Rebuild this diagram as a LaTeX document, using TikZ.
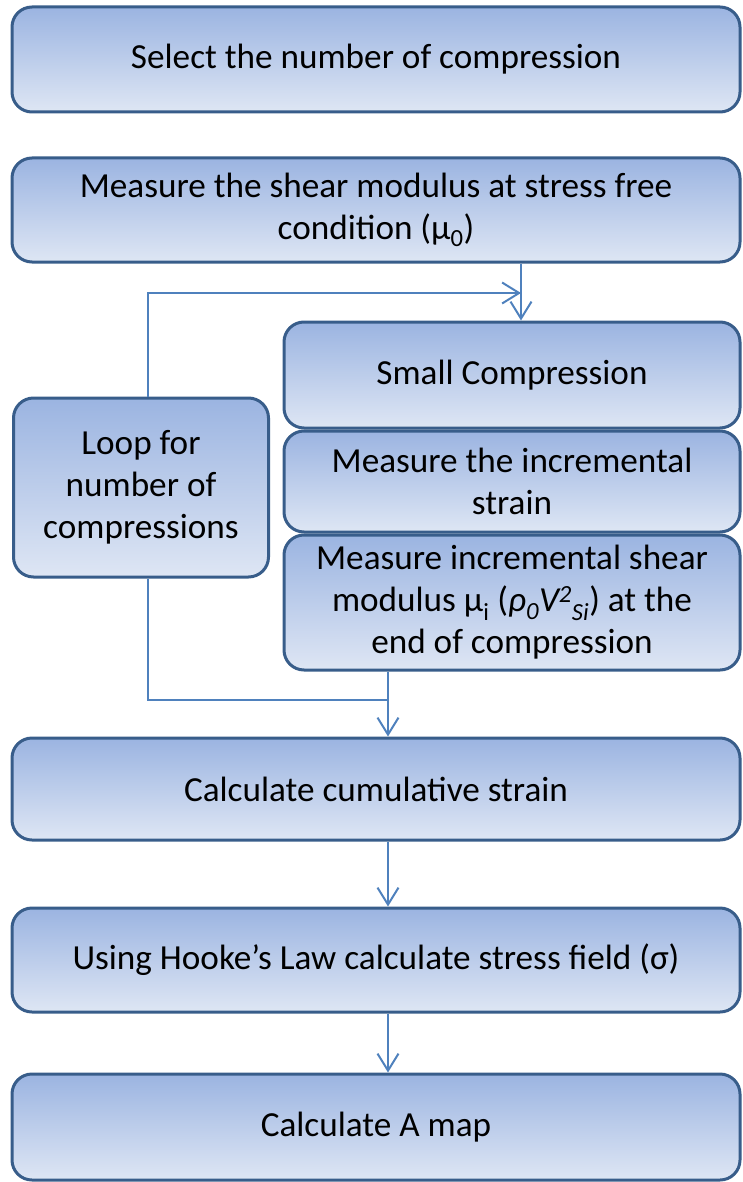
\documentclass[tikz,border=0pt]{standalone}
\usepackage{fontspec}
\setmainfont{Carlito}
\usetikzlibrary{arrows.meta}
\definecolor{bordc}{RGB}{56,93,138}
\definecolor{topc}{RGB}{155,180,225}
\definecolor{botc}{RGB}{222,230,244}
\definecolor{linec}{RGB}{79,129,189}
\tikzset{
  box/.style={draw=bordc, line width=3pt, rounded corners=20pt, top color=topc, bottom color=botc,
    align=center, inner sep=0pt, font=\fontsize{35.2}{42}\selectfont},
  conn/.style={draw=linec, line width=2pt},
  arr/.style={conn, -{Straight Barb[length=17pt,width=21pt,line width=2pt]}}
}
\begin{document}
\begin{tikzpicture}[x=1pt,y=1pt]
\useasboundingbox (0,0) rectangle (742,-1182);
\node[box, minimum width=728, minimum height=105] (b1) at (376,-59.5) {Select the number of compression};
\node[box, minimum width=728, minimum height=104] (b2) at (376,-210) {Measure the shear modulus at stress free\\condition (μ\textsubscript{0})};
\node[box, minimum width=456, minimum height=106] (sc) at (512,-375) {Small Compression};
\node[box, minimum width=456, minimum height=101] (ms) at (512,-481.5) {Measure the incremental\\strain};
\node[box, minimum width=456, minimum height=135] (mi) at (512,-602.5) {Measure incremental shear\\modulus μ\textsubscript{i} (\textit{ρ\textsubscript{0}V\textsuperscript{2}\textsubscript{Si}}) at the\\end of compression};
\node[box, minimum width=255, minimum height=179] (loop) at (141,-487.5) {Loop for\\number of\\compressions};
\node[box, minimum width=728, minimum height=102] (cum) at (376,-789) {Calculate cumulative strain};
\node[box, minimum width=728, minimum height=104] (hk) at (376,-960) {Using Hooke’s Law calculate stress field (σ)};
\node[box, minimum width=728, minimum height=106] (am) at (376,-1127) {Calculate A map};
\coordinate (j1) at (521,-293);
\coordinate (lx) at (148,-293);
\coordinate (j2) at (388,-700);
\draw[arr] (b2.south -| j1) -- (sc.north -| j1);
\draw[arr] (loop.north -| lx) -- (lx) -- (j1);
\draw[conn] (loop.south -| lx) -- (lx |- j2) -- (j2);
\draw[arr] (mi.south -| j2) -- (cum.north -| j2);
\draw[arr] (cum.south -| j2) -- (hk.north -| j2);
\draw[arr] (hk.south -| j2) -- (am.north -| j2);
\end{tikzpicture}
\end{document}
